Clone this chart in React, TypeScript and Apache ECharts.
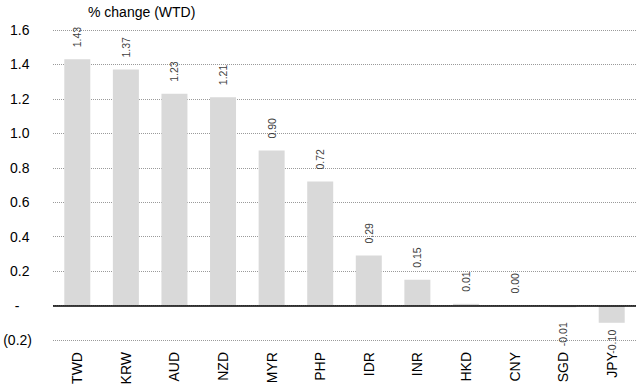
import React, { useEffect, useRef } from "react";
import * as echarts from "echarts";

const currencies = ["TWD", "KRW", "AUD", "NZD", "MYR", "PHP", "IDR", "INR", "HKD", "CNY", "SGD", "JPY"];
const weeklyChange = [1.43, 1.37, 1.23, 1.21, 0.9, 0.72, 0.29, 0.15, 0.01, 0.0, -0.01, -0.1];
const yTicks = { min: -0.2, max: 1.6, step: 0.2 };
const chartTitle = "% change (WTD)";

const FONT = "'Liberation Sans', Arial, sans-serif";

// Accounting-style tick text: "-" for zero, parentheses for negatives.
function formatTick(v: number): string {
  if (Math.abs(v) < 1e-9) return "-{z| }";
  if (v < 0) return `(${Math.abs(v).toFixed(1)})`;
  return `${v.toFixed(1)}{p| }`;
}

export default function App() {
  const ref = useRef<HTMLDivElement>(null);

  useEffect(() => {
    if (!ref.current) return;
    const chart = echarts.init(ref.current, undefined, { renderer: "svg" });

    const barData = weeklyChange.map((v) => {
      const neg = v < 0;
      return {
        value: v,
        label: {
          position: neg ? "bottom" : "top",
          align: neg ? "right" : "left",
          distance: neg ? (Math.abs(v) < 0.05 ? 15 : 7) : 12,
        },
      };
    });

    chart.setOption({
      animation: false,
      textStyle: { fontFamily: FONT },
      title: {
        text: chartTitle,
        left: 88,
        top: 5,
        padding: 0,
        textStyle: { fontFamily: FONT, fontSize: 14, fontWeight: "normal", color: "#000" },
      },
      grid: { left: 53, right: 2, top: 30, bottom: 49, containLabel: false },
      xAxis: {
        type: "category",
        data: currencies,
        axisLine: { show: false, onZero: false },
        axisTick: { show: false },
        axisLabel: {
          rotate: 90,
          margin: 12,
          fontSize: 14,
          fontFamily: FONT,
          color: "#000",
          interval: 0,
        },
      },
      yAxis: {
        type: "value",
        min: yTicks.min,
        max: yTicks.max,
        interval: yTicks.step,
        axisLine: { show: false },
        axisTick: { show: false },
        splitLine: { lineStyle: { color: "#9a9a9a", type: [1, 1], width: 1 } },
        axisLabel: {
          margin: 21,
          fontSize: 14,
          fontFamily: FONT,
          color: "#000",
          formatter: formatTick,
          rich: {
            p: { width: 2.5, fontSize: 14 },
            z: { width: 12.5, fontSize: 14 },
          },
        },
      },
      series: [
        {
          type: "bar",
          data: barData,
          barWidth: 26,
          itemStyle: { color: "#d9d9d9" },
          label: {
            show: true,
            rotate: 90,
            verticalAlign: "middle",
            fontSize: 10.5,
            fontFamily: FONT,
            color: "#404040",
            formatter: (p: any) => Number(p.value).toFixed(2),
          },
          markLine: {
            silent: true,
            symbol: ["none", "none"],
            label: { show: false },
            lineStyle: { color: "#000", type: "solid", width: 1.5 },
            data: [{ yAxis: 0 }],
          },
        },
      ],
    });

    return () => chart.dispose();
  }, []);

  return (
    <div
      ref={ref}
      style={{ position: "fixed", left: 0, top: 0, width: 638, height: 389, background: "#fff" }}
    />
  );
}
